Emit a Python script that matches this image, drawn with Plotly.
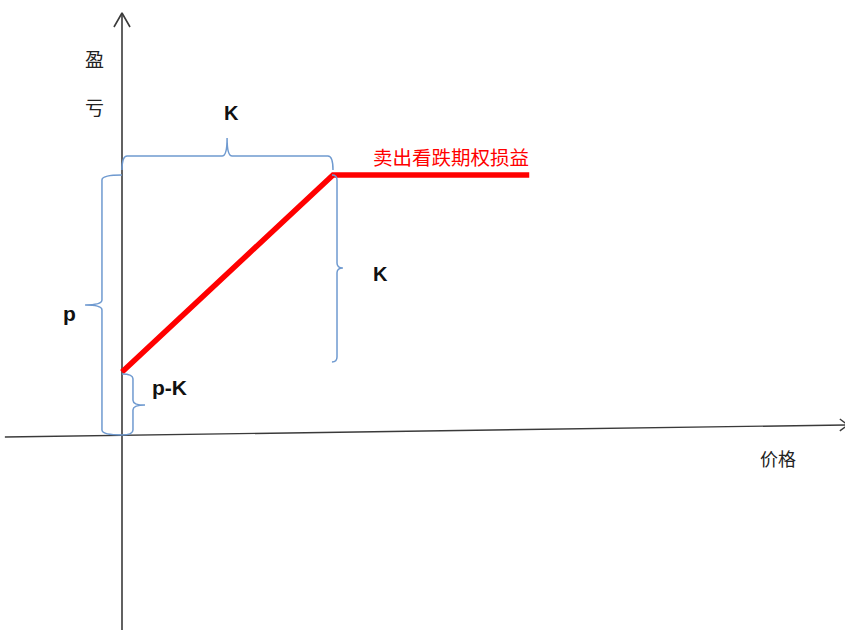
import plotly.graph_objects as go

# ---- data (conceptual units) ----
K = 100          # strike price
P = 132          # premium received
price_pts = [0, K, 193]
profit_pts = [P - K, P, P]

series_name = "卖出看跌期权损益"
y_axis_label = ["盈", "亏"]
x_axis_label = "价格"

# axis extents (data units)
x_range = [-57.82, 342.65]
y_range = [-98.98, 220.81]
x_axis_line_x = [-55.5, 344]
x_axis_line_y = [-1.0, 5.1]
y_axis_line_y = [-99, 214.2]

BLUE = "#6F9AD0"
AXIS = "#3a3a3a"
CJK = "Noto Sans CJK SC"
LAT = "Liberation Sans"

fig = go.Figure()

# axes
fig.add_trace(go.Scatter(x=x_axis_line_x, y=x_axis_line_y, mode="lines",
                         line=dict(color=AXIS, width=1.4), hoverinfo="skip"))
fig.add_trace(go.Scatter(x=[0, 0], y=y_axis_line_y, mode="lines",
                         line=dict(color=AXIS, width=1.6), hoverinfo="skip"))
# arrow heads
top = y_axis_line_y[1]
fig.add_trace(go.Scatter(x=[-3.8, 0, 3.8], y=[top - 7.1, top, top - 7.1], mode="lines",
                         line=dict(color=AXIS, width=1.6), hoverinfo="skip"))
xe, ye = x_axis_line_x[1], x_axis_line_y[1]
fig.add_trace(go.Scatter(x=[xe - 3.8, xe, xe - 3.8], y=[ye + 3.0, ye, ye - 3.0], mode="lines",
                         line=dict(color=AXIS, width=1.4), hoverinfo="skip"))

# payoff line
fig.add_trace(go.Scatter(x=price_pts, y=profit_pts, mode="lines",
                         line=dict(color="#FF0000", width=5.5), hoverinfo="skip"))


def brace(orient, lo, hi, mid, end, base, tip, r):
    pts = [("M", [(lo, end)]),
           ("Q", [(lo, base), (lo + r, base)]),
           ("L", [(mid - r, base)]),
           ("Q", [(mid, base), (mid, tip)]),
           ("Q", [(mid, base), (mid + r, base)]),
           ("L", [(hi - r, base)]),
           ("Q", [(hi, base), (hi, end)])]
    out = []
    for cmd, ps in pts:
        coords = []
        for a, c in ps:
            x, y = (a, c) if orient == "h" else (c, a)
            coords.append(f"{x:.3f},{y:.3f}")
        out.append(cmd + " " + " ".join(coords))
    return " ".join(out)


braces = [
    ("h", 0, K, 49.8, 134.5, 141.6, 150.8, 2.4),      # K (top)
    ("v", 0, P, 66.0, 0, -9.5, -17.5, 2.5),           # p (left)
    ("v", 37.1, P, 84.8, 99.5, 101.9, 104.7, 2.5),    # K (right)
    ("v", 0, 31.0, 15.2, 0, 5.2, 10.9, 2.5),          # p-K
]
for b in braces:
    fig.add_shape(type="path", path=brace(*b), xref="x", yref="y",
                  line=dict(color=BLUE, width=1.5), fillcolor="rgba(0,0,0,0)")

# labels
labels = [
    (y_axis_label[0], -12.8, 190.9, CJK, 19, "#222", False),
    (y_axis_label[1], -12.8, 167.0, CJK, 19, "#222", False),
    ("K", 51.7, 163.5, LAT, 20, "#111", True),
    (series_name, 155.7, 141.6, CJK, 19.5, "#FF0000", False),
    ("K", 122.3, 81.7, LAT, 20, "#111", True),
    ("p", -25.1, 61.9, LAT, 21, "#111", True),
    ("p-K", 22.3, 23.9, LAT, 21, "#111", True),
    (x_axis_label, 310.9, -11.7, CJK, 18, "#222", False),
]
for txt, x, y, fam, size, col, bold in labels:
    fig.add_annotation(x=x, y=y, xref="x", yref="y", text=txt, showarrow=False,
                       font=dict(family=fam, size=size, color=col,
                                 weight="bold" if bold else "normal"),
                       xanchor="center", yanchor="middle")

fig.update_layout(
    width=845, height=630, margin=dict(l=0, r=0, t=0, b=0),
    paper_bgcolor="white", plot_bgcolor="white", showlegend=False,
    xaxis=dict(range=x_range, visible=False, fixedrange=True),
    yaxis=dict(range=y_range, visible=False, fixedrange=True),
)
fig.write_html("out.html", config={"displayModeBar": False, "staticPlot": True},
               post_script="document.body.style.margin='0px';document.body.style.overflow='hidden';")
